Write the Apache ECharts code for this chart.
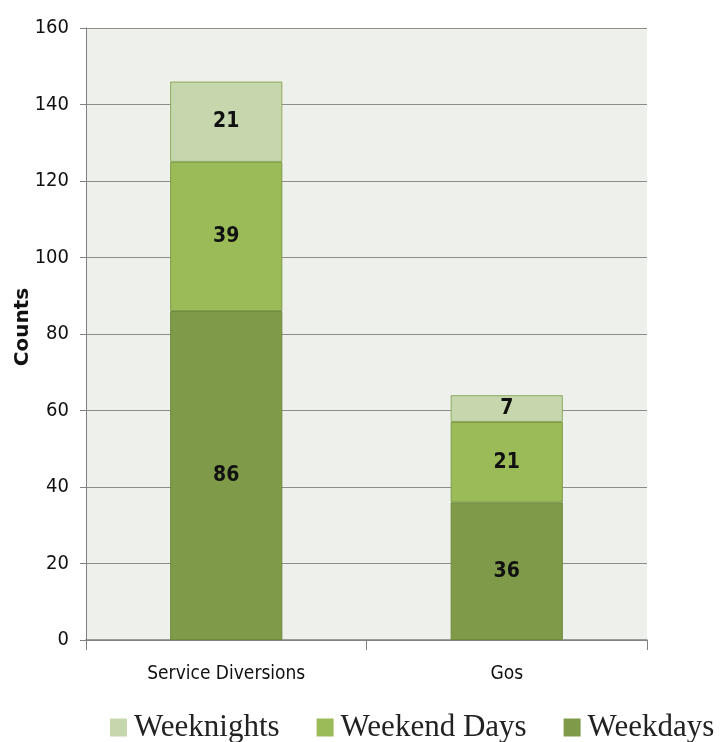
<!DOCTYPE html>
<html><head><meta charset="utf-8">
<script src="https://cdn.jsdelivr.net/npm/echarts@6/dist/echarts.min.js"></script>
<style>html,body{margin:0;padding:0;background:#fff}#c{width:723px;height:742px}</style>
</head><body><div id="c"></div>
<script>
const categories = ["Service Diversions", "Gos"];
const weekdays = [86, 36];
const weekendDays = [39, 21];
const weeknights = [21, 7];
const yTicks = [0, 20, 40, 60, 80, 100, 120, 140, 160];

const NARROW = "'Liberation Sans Narrow', 'Arial Narrow', 'DejaVu Sans Condensed', 'Liberation Sans', sans-serif";
const chart = echarts.init(document.getElementById('c'));
const lbl = {show: true, position: 'inside', color: '#111', fontFamily: NARROW, fontWeight: 'bold', fontSize: 21};
function mk(name, data, color, border) {
  return {name, type: 'bar', stack: 't', data, barWidth: '40%',
    itemStyle: {color, borderColor: border, borderWidth: 1}, label: lbl};
}
chart.setOption({
  animation: false,
  grid: {left: 86, right: 76, top: 28, bottom: 102, show: true, backgroundColor: '#eef1eb', borderWidth: 0,
    containLabel: false, outerBoundsMode: 'none'},
  legend: {
    bottom: -6, left: 105, itemGap: 37, itemWidth: 17, itemHeight: 18,
    icon: 'rect',
    textStyle: {fontFamily: "'Liberation Serif', serif", fontSize: 31, color: '#222', padding: [0, 0, 0, 2]},
    itemStyle: {borderWidth: 0},
    data: ['Weeknights', 'Weekend Days', 'Weekdays']
  },
  xAxis: {
    type: 'category', data: categories,
    axisLine: {lineStyle: {color: '#808080', width: 1.5}},
    axisTick: {show: true, length: 10, lineStyle: {color: '#808080'}},
    axisLabel: {fontFamily: NARROW, fontSize: 19, color: '#111', margin: 25}
  },
  yAxis: {
    type: 'value', min: 0, max: 160, interval: 20,
    name: 'Counts', nameLocation: 'middle', nameGap: 53, nameRotate: 90, nameMoveOverlap: false,
    nameTextStyle: {fontFamily: "'DejaVu Sans', sans-serif", fontWeight: 'bold', fontSize: 20, color: '#111', padding: [0, 0, 0, 14]},
    axisLine: {show: true, lineStyle: {color: '#808080'}},
    axisTick: {show: true, length: 6, lineStyle: {color: '#808080'}},
    splitLine: {lineStyle: {color: '#8c8c8c', width: 1.2}},
    axisLabel: {fontFamily: NARROW, fontSize: 20, color: '#111', margin: 17,
      formatter: v => yTicks.includes(v) ? String(v) : ''}
  },
  series: [
    mk('Weekdays', weekdays, '#7f9a48', '#6f8a3c'),
    mk('Weekend Days', weekendDays, '#9bbb59', '#7f9a48'),
    mk('Weeknights', weeknights, '#c6d6ad', '#8faa5e')
  ]
});
</script></body></html>
